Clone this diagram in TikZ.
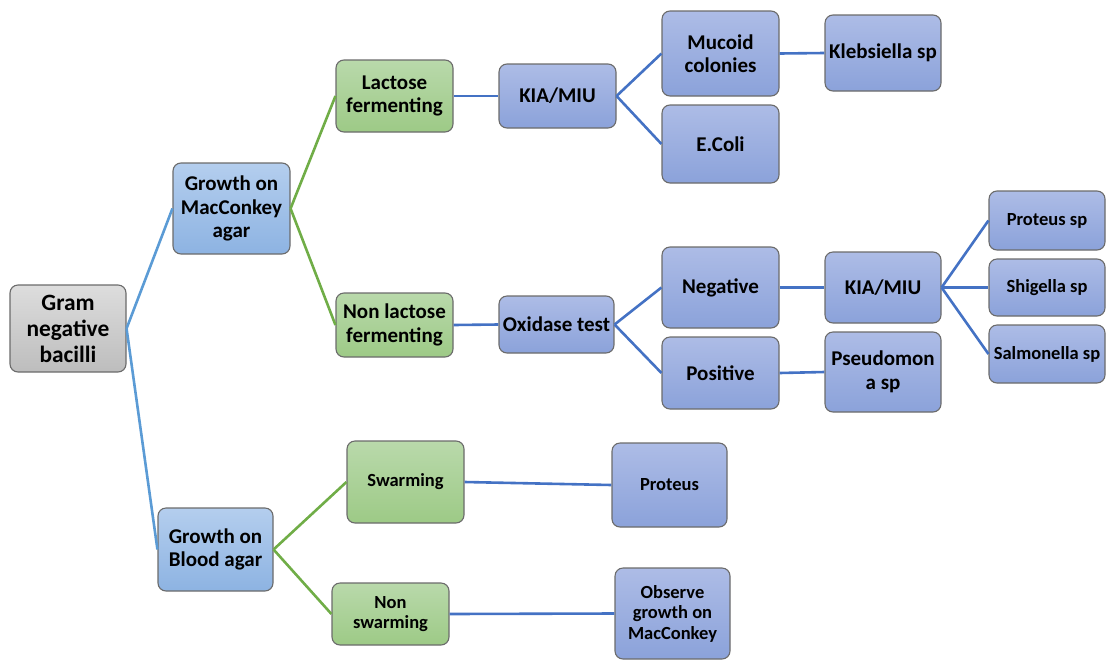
\documentclass[tikz,border=0pt]{standalone}
\usepackage{fontspec}
\setmainfont{Carlito}
\definecolor{edgegray}{HTML}{6B6B6B}
\definecolor{graytop}{HTML}{DDDDDD}
\definecolor{graybot}{HTML}{BDBDBD}
\definecolor{skytop}{HTML}{B4CEEE}
\definecolor{skybot}{HTML}{8DB3E2}
\definecolor{leaftop}{HTML}{B9D9AB}
\definecolor{leafbot}{HTML}{9DCA86}
\definecolor{lilactop}{HTML}{ADBCE6}
\definecolor{lilacbot}{HTML}{8BA2DA}
\definecolor{skyline}{HTML}{5B9BD5}
\definecolor{leafline}{HTML}{70AD47}
\definecolor{deepline}{HTML}{4472C4}
\newcommand{\Link}[3]{\draw [#1] (#2) -- (#3);}

\begin{document}
\begin{tikzpicture}
[x=1pt,y=-1pt,
 box/.style={draw=edgegray,line width=1.1pt,rounded corners=8pt,align=center,
   inner sep=2pt,font=\bfseries\fontsize{21}{23.5}\selectfont},
 small/.style={font=\bfseries\fontsize{18.5}{20.5}\selectfont},
 rootbox/.style={box,top color=graytop,bottom color=graybot,
   font=\bfseries\fontsize{23.4}{26}\selectfont},
 skybox/.style={box,top color=skytop,bottom color=skybot},
 leafbox/.style={box,top color=leaftop,bottom color=leafbot},
 lilacbox/.style={box,top color=lilactop,bottom color=lilacbot},
 sky/.style={draw=skyline,line width=2.6pt},
 leaf/.style={draw=leafline,line width=2.6pt},
 deep/.style={draw=deepline,line width=2.6pt},]

\useasboundingbox (0,0) rectangle (1118,659);

% first level
\node [rootbox,minimum width=116pt,minimum height=87pt] at (68,328.5) (gram) {Gram\\negative\\bacilli};
\node [skybox,minimum width=117pt,minimum height=91pt] at (231.5,208.5) (mac) {Growth on\\MacConkey\\agar};
\node [skybox,minimum width=115pt,minimum height=83pt] at (215.5,549.5) (blood) {Growth on\\Blood agar};

% second level
\node [leafbox,minimum width=117pt,minimum height=72pt] at (394.5,96) (lact) {Lactose\\fermenting};
\node [leafbox,minimum width=117pt,minimum height=64pt] at (394.5,325) (nonlact) {Non lactose\\fermenting};
\node [leafbox,small,minimum width=117pt,minimum height=82pt] at (405.5,482) (swarm) {Swarming};
\node [leafbox,small,minimum width=117pt,minimum height=62pt] at (390.5,614) (nonswarm) {Non\\swarming};

% third level
\node [lilacbox,minimum width=117pt,minimum height=64pt] at (557.5,96) (kiaA) {KIA/MIU};
\node [lilacbox,minimum width=115pt,minimum height=57pt] at (556.5,324.5) (oxi) {Oxidase test};
\node [lilacbox,minimum width=117pt,minimum height=85pt] at (720.5,53.5) (mucoid) {Mucoid\\colonies};
\node [lilacbox,minimum width=117pt,minimum height=78pt] at (720.5,144) (ecoli) {E.Coli};
\node [lilacbox,minimum width=117pt,minimum height=81pt] at (720.5,287.5) (neg) {Negative};
\node [lilacbox,minimum width=117pt,minimum height=72pt] at (720.5,373) (pos) {Positive};
\node [lilacbox,small,minimum width=115pt,minimum height=84pt] at (669.5,485) (proteus) {Proteus};
\node [lilacbox,small,minimum width=115pt,minimum height=91pt] at (672.5,613.5) (observe) {Observe\\growth on\\MacConkey};

% fourth level
\node [lilacbox,minimum width=116pt,minimum height=76pt] at (883,53) (kleb) {Klebsiella sp};
\node [lilacbox,minimum width=116pt,minimum height=71pt] at (883,287.5) (kiaB) {KIA/MIU};
\node [lilacbox,minimum width=116pt,minimum height=80pt] at (883,372) (pseudo) {Pseudomon\\a sp};
\node [lilacbox,small,minimum width=116pt,minimum height=59pt] at (1047,220.5) (protsp) {Proteus sp};
\node [lilacbox,small,minimum width=116pt,minimum height=57pt] at (1047,287.5) (shig) {Shigella sp};
\node [lilacbox,small,minimum width=116pt,minimum height=58pt] at (1047,354) (salm) {Salmonella sp};

\Link{sky}{gram.east}{mac.west}
\Link{sky}{gram.east}{blood.west}
\Link{leaf}{mac.east}{lact.west}
\Link{leaf}{mac.east}{nonlact.west}
\Link{leaf}{blood.east}{swarm.west}
\Link{leaf}{blood.east}{nonswarm.west}
\Link{deep}{lact.east}{kiaA.west}
\Link{deep}{kiaA.east}{mucoid.west}
\Link{deep}{kiaA.east}{ecoli.west}
\Link{deep}{mucoid.east}{kleb.west}
\Link{deep}{nonlact.east}{oxi.west}
\Link{deep}{oxi.east}{neg.west}
\Link{deep}{oxi.east}{pos.west}
\Link{deep}{neg.east}{kiaB.west}
\Link{deep}{pos.east}{pseudo.west}
\Link{deep}{kiaB.east}{protsp.west}
\Link{deep}{kiaB.east}{shig.west}
\Link{deep}{kiaB.east}{salm.west}
\Link{deep}{swarm.east}{proteus.west}
\Link{deep}{nonswarm.east}{observe.west}
\end{tikzpicture}
\end{document}
